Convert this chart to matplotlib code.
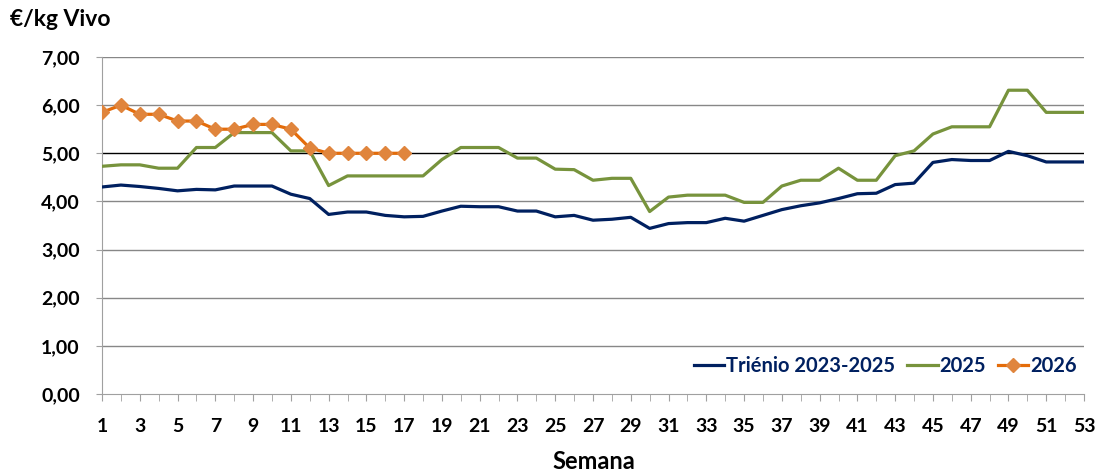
import matplotlib
matplotlib.use("Agg")
import matplotlib.pyplot as plt
from matplotlib.ticker import FixedLocator, FuncFormatter

weeks = list(range(1, 54))

trienio = [4.30, 4.34, 4.31, 4.27, 4.22, 4.25, 4.24, 4.32, 4.32, 4.32,
           4.15, 4.06, 3.73, 3.78, 3.78, 3.71, 3.68, 3.69, 3.80, 3.90,
           3.89, 3.89, 3.80, 3.80, 3.68, 3.71, 3.61, 3.63, 3.67, 3.44,
           3.54, 3.56, 3.56, 3.65, 3.59, 3.71, 3.83, 3.91, 3.97, 4.06,
           4.16, 4.17, 4.35, 4.38, 4.81, 4.87, 4.85, 4.85, 5.04, 4.95,
           4.82, 4.82, 4.82]

y2025 = [4.73, 4.76, 4.76, 4.69, 4.69, 5.12, 5.12, 5.43, 5.43, 5.43,
         5.05, 5.05, 4.33, 4.53, 4.53, 4.53, 4.53, 4.53, 4.87, 5.12,
         5.12, 5.12, 4.90, 4.90, 4.67, 4.66, 4.44, 4.48, 4.48, 3.79,
         4.09, 4.13, 4.13, 4.13, 3.98, 3.98, 4.32, 4.44, 4.44, 4.69,
         4.44, 4.44, 4.95, 5.05, 5.40, 5.55, 5.55, 5.55, 6.31, 6.31,
         5.85, 5.85, 5.85]

weeks_2026 = list(range(1, 18))
y2026 = [5.85, 6.00, 5.81, 5.81, 5.67, 5.67, 5.50, 5.50, 5.60, 5.60,
         5.50, 5.11, 5.00, 5.00, 5.00, 5.00, 5.00]

yticks = [0, 1, 2, 3, 4, 5, 6, 7]
xtick_labels = list(range(1, 54, 2))

FONT = "Lato"
NAVY = "#002060"
GREEN = "#77933C"
ORANGE = "#E46C0A"
ORANGE_M = "#E0853D"
W, H = 1104, 473

fig = plt.figure(figsize=(W / 100, H / 100), dpi=100)
ax = fig.add_axes([102 / W, 1 - 394 / H, (1084 - 102) / W, (394 - 57) / H])

for v in yticks[1:]:
    ax.axhline(v, color="#000000" if v == 5 else "#878787", lw=1.0, zorder=1)

ax.plot(weeks, trienio, color=NAVY, lw=2.3, label="Triénio 2023-2025", zorder=3)
ax.plot(weeks, y2025, color=GREEN, lw=2.3, label="2025", zorder=3)
ax.plot(weeks_2026, y2026, color=ORANGE, lw=2.3, marker="D", markersize=7,
        markerfacecolor=ORANGE_M, markeredgecolor=ORANGE_M, label="2026", zorder=4)

ax.set_xlim(1, 53)
ax.set_ylim(0, 7)
ax.yaxis.set_major_locator(FixedLocator(yticks))
ax.yaxis.set_major_formatter(FuncFormatter(lambda v, p: f"{v:.2f}".replace(".", ",")))
ax.xaxis.set_major_locator(FixedLocator(xtick_labels))
ax.xaxis.set_minor_locator(FixedLocator(weeks))
ax.tick_params(axis="x", which="both", direction="out", length=5, color="#A0A0A0",
               pad=12)
ax.tick_params(axis="y", direction="out", length=4.5, color="#A0A0A0", pad=11.5)

for lab in ax.get_xticklabels() + ax.get_yticklabels():
    lab.set_fontfamily(FONT)
    lab.set_fontweight("bold")
    lab.set_fontsize(14)

for s in ["top", "right"]:
    ax.spines[s].set_visible(False)
ax.spines["left"].set_color("#A0A0A0")
ax.spines["bottom"].set_color("#A0A0A0")

fig.text(593.7 / W, 1 - 461 / H, "Semana", fontfamily=FONT, fontweight="bold",
         fontsize=17, ha="center", va="center")
fig.text(10 / W, 1 - 20 / H, "€/kg Vivo", fontfamily=FONT, fontweight="bold",
         fontsize=16.5, ha="left", va="center")

leg = ax.legend(loc="center right", ncol=3, frameon=False,
                bbox_to_anchor=(1077 / W, 1 - 366 / H), bbox_transform=fig.transFigure,
                prop={"family": FONT, "weight": "bold", "size": 14.5},
                handlelength=1.5, handletextpad=0.1, columnspacing=0.6,
                borderpad=0, borderaxespad=0)
for t in leg.get_texts():
    t.set_color(NAVY)

fig.savefig("out.png", dpi=100)
